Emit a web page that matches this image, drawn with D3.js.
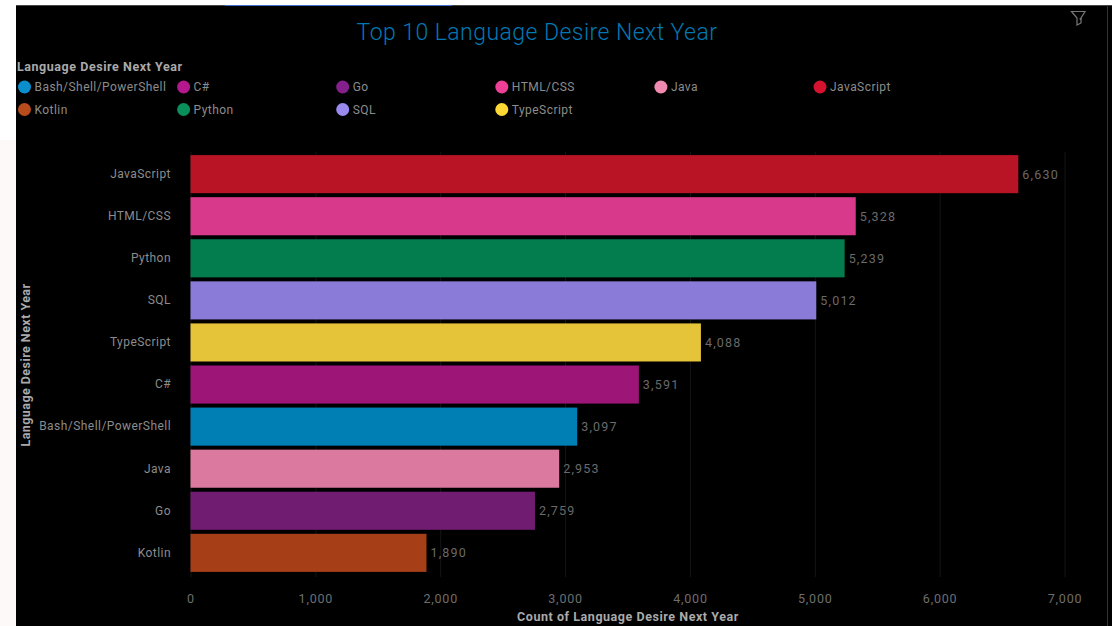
<!DOCTYPE html>
<html>
<head>
<meta charset="utf-8">
<script src="https://cdn.jsdelivr.net/npm/d3@7"></script>
<style>
  html, body {margin: 0; padding: 0; background: #fff; overflow: hidden;}
  text {font-family: "Roboto", sans-serif;}
</style>
</head>
<body>
<div id="chart"></div>
<script>
// values
var languages = ["JavaScript", "HTML/CSS", "Python", "SQL", "TypeScript", "C#", "Bash/Shell/PowerShell", "Java", "Go", "Kotlin"];
var counts = [6630, 5328, 5239, 5012, 4088, 3591, 3097, 2953, 2759, 1890];
var legend_names = ["Bash/Shell/PowerShell", "C#", "Go", "HTML/CSS", "Java", "JavaScript", "Kotlin", "Python", "SQL", "TypeScript"];
var legend_colors = ["#0a8fcc", "#b5178c", "#84208c", "#ee3f96", "#f08ab0", "#d6132f", "#b84c1c", "#0a8f5a", "#9a8af0", "#fdd835"];
var bar_colors = ["#007fb5", "#9c1577", "#701c70", "#d9398a", "#db7a9e", "#b81425", "#a63f18", "#047d4e", "#8a7bd8", "#e6c43a"];
var x_ticks = [0, 1000, 2000, 3000, 4000, 5000, 6000, 7000];

var width = 1119, height = 626;
var svg = d3.select("#chart").append("svg")
    .attr("width", width)
    .attr("height", height)
    .style("display", "block");

// faint tint left of the panel
svg.append("rect").attr("x", 0).attr("y", 140).attr("width", 16).attr("height", 486).attr("fill", "#fcf9f8");

// black panel with the thin top rule
svg.append("rect").attr("x", 16).attr("y", 5).attr("width", 1096).attr("height", 621).attr("fill", "#000");
svg.append("line").attr("x1", 16).attr("x2", 1112).attr("y1", 5.5).attr("y2", 5.5).attr("stroke", "#444");
svg.append("line").attr("x1", 225).attr("x2", 452).attr("y1", 5.5).attr("y2", 5.5).attr("stroke", "#3b6fd0");
svg.append("line").attr("x1", 1107.5).attr("x2", 1107.5).attr("y1", 5).attr("y2", 626).attr("stroke", "#333");

svg.append("text")
    .attr("x", 537).attr("y", 40)
    .attr("text-anchor", "middle")
    .attr("font-size", 23)
    .attr("font-weight", 300)
    .attr("letter-spacing", 0.45)
    .attr("fill", "#0078b4")
    .text("Top 10 Language Desire Next Year");

// filter icon, top right
svg.append("path")
    .attr("d", "M1071.5 11.5H1085L1081 18V23L1077 25V18Z")
    .attr("fill", "none")
    .attr("stroke", "#777")
    .attr("stroke-width", 1.2);
svg.append("circle").attr("cx", 1080.5).attr("cy", 19).attr("r", 1).attr("fill", "#777");

var color = d3.scaleOrdinal().domain(legend_names).range(legend_colors);
var bar_color = d3.scaleOrdinal().domain(legend_names).range(bar_colors);

// legend
svg.append("text")
    .attr("x", 17).attr("y", 71)
    .attr("font-size", 12.5)
    .attr("font-weight", 700)
    .attr("letter-spacing", 0.55)
    .attr("fill", "#aaa")
    .text("Language Desire Next Year");

var legend_x = d3.scaleLinear().domain([0, 5]).range([24.5, 820]);
var legend_y = d3.scaleLinear().domain([0, 1]).range([87, 109.5]);
var legend = svg.append("g").selectAll("g")
    .data(legend_names)
    .enter().append("g")
    .attr("transform", function(d, i) {
        return "translate(" + legend_x(i % 6) + "," + legend_y(Math.floor(i / 6)) + ")";
    });
legend.append("circle").attr("r", 6.5).attr("fill", function(d) {return color(d);});
legend.append("text")
    .attr("x", 10).attr("dy", ".35em")
    .attr("font-size", 12)
    .attr("letter-spacing", 0.45)
    .attr("fill", "#8c8c8c")
    .text(function(d) {return d;});

// scales
var x = d3.scaleLinear().domain([0, 7000]).range([190.5, 1064.5]);
var y = d3.scaleBand().domain(languages).range([153, 574]).paddingInner(0.095).paddingOuter(0.05);

// x axis with faint gridlines
var x_axis = svg.append("g")
    .attr("transform", "translate(0,577)")
    .call(d3.axisBottom(x).tickValues(x_ticks).tickFormat(d3.format(",")).tickSize(-425).tickPadding(17));
x_axis.select(".domain").remove();
x_axis.selectAll("line").attr("stroke", "#151515");
x_axis.selectAll("text")
    .attr("font-size", 12.5)
    .attr("letter-spacing", 0.8)
    .attr("fill", "#6e6e6e");

// y axis
var y_axis = svg.append("g")
    .attr("transform", "translate(190,0)")
    .call(d3.axisLeft(y).tickSize(0).tickPadding(19));
y_axis.select(".domain").remove();
y_axis.selectAll("text")
    .attr("font-size", 12)
    .attr("letter-spacing", 0.45)
    .attr("fill", "#8c8c8c");

// bars
svg.append("g").selectAll("rect")
    .data(languages)
    .enter().append("rect")
    .attr("x", x(0))
    .attr("y", function(d) {return y(d);})
    .attr("width", function(d, i) {return x(counts[i]) - x(0);})
    .attr("height", y.bandwidth())
    .attr("fill", function(d) {return bar_color(d);});

// value labels
svg.append("g").selectAll("text")
    .data(languages)
    .enter().append("text")
    .attr("x", function(d, i) {return x(counts[i]) + 4;})
    .attr("y", function(d) {return y(d) + y.bandwidth() / 2;})
    .attr("dy", ".35em")
    .attr("font-size", 12.5)
    .attr("letter-spacing", 1.2)
    .attr("fill", "#6a6a6a")
    .text(function(d, i) {return d3.format(",")(counts[i]);});

// axis titles
svg.append("text")
    .attr("x", 628).attr("y", 621)
    .attr("text-anchor", "middle")
    .attr("font-size", 12.5)
    .attr("font-weight", 700)
    .attr("letter-spacing", 0.55)
    .attr("fill", "#aaa")
    .text("Count of Language Desire Next Year");

svg.append("text")
    .attr("transform", "translate(30,365) rotate(-90)")
    .attr("text-anchor", "middle")
    .attr("font-size", 12.5)
    .attr("font-weight", 700)
    .attr("letter-spacing", 0.45)
    .attr("fill", "#aaa")
    .text("Language Desire Next Year");
</script>
</body>
</html>
